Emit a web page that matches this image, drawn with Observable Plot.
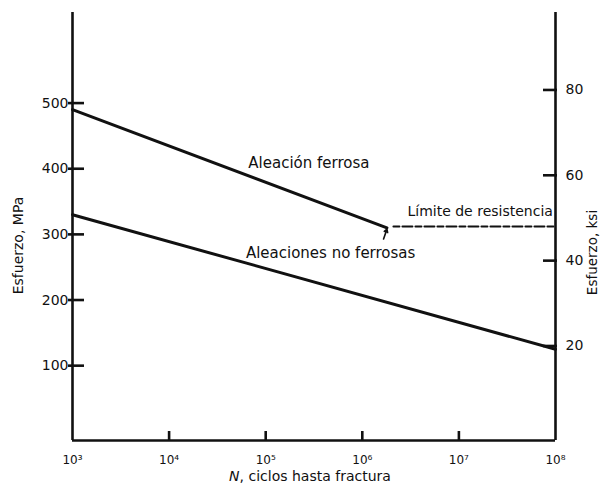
<!DOCTYPE html>
<html><head><meta charset="utf-8">
<script src="https://cdn.jsdelivr.net/npm/d3@7"></script>
<script src="https://cdn.jsdelivr.net/npm/@observablehq/plot@0.6"></script>
<style>body{margin:0;background:#fff} #chart{width:602px;height:486px}</style>
</head><body><div id="chart"></div>
<script>
// ---- data ----
const cycleTicks = [1e3, 1e4, 1e5, 1e6, 1e7, 1e8];   // N, ciclos
const mpaTicks = [100, 200, 300, 400, 500];          // left axis, MPa
const ksiTicks = [20, 40, 60, 80];                   // right axis, ksi
const ferrous = [{N: 1e3, s: 490}, {N: 1.8e6, s: 310}];
const endurance = [{N: 2.1e6, s: 312}, {N: 1e8, s: 312}];
const nonFerrous = [{N: 1e3, s: 330}, {N: 1e8, s: 125}];
const curveLabels = [
  {N: 2.8e5, s: 408, label: "Aleación ferrosa"},
  {N: 4.7e5, s: 272, label: "Aleaciones no ferrosas"},
  {N: 1.66e7, s: 335, label: "Límite de resistencia"}
];
const kneeArrow = [{N1: 1.66e6, s1: 293, N2: 1.8e6, s2: 308}];
const MPA_PER_KSI = 6.5; // as drawn in the figure

// ---- layout ----
const W = 602, H = 486, mL = 72, mR = 47, mT = 12, mB = 46;
const innerW = W - mL - mR, innerH = H - mT - mB;
const sup = {"0":"⁰","1":"¹","2":"²","3":"³","4":"⁴","5":"⁵","6":"⁶","7":"⁷","8":"⁸","9":"⁹"};
const fmtPow = d => "10" + String(Math.round(Math.log10(d))).split("").map(c => sup[c]).join("");
const ink = "#111";

const plot = Plot.plot({
  width: W, height: H,
  marginLeft: mL, marginRight: mR, marginTop: mT, marginBottom: mB,
  style: {fontFamily: "DejaVu Sans", color: ink, background: "white"},
  x: {type: "log", domain: [1e3, 1e8]},
  y: {domain: [-14, 638]},
  marks: [
    Plot.axisX({ticks: cycleTicks, tickSize: 0, tickPadding: 15, tickFormat: fmtPow, fontSize: 12, label: null}),
    Plot.axisY({anchor: "left", ticks: mpaTicks, tickSize: 0, tickPadding: 4, fontSize: 14, label: null}),
    Plot.axisY({anchor: "right", ticks: ksiTicks.map(k => k * MPA_PER_KSI), tickFormat: d => Math.round(d / MPA_PER_KSI),
      tickSize: 0, tickPadding: 10, fontSize: 14, label: null}),
    // frame lines (left, right, bottom)
    Plot.ruleX([1e3, 1e8], {stroke: ink, strokeWidth: 2.6}),
    Plot.ruleY([-14], {stroke: ink, strokeWidth: 2.6}),
    // inward ticks
    Plot.ruleX(cycleTicks.slice(1, -1), {stroke: ink, strokeWidth: 2.6, insetTop: innerH - 9}),
    Plot.ruleY(mpaTicks, {stroke: ink, strokeWidth: 2.6, insetLeft: -4, insetRight: innerW - 12}),
    Plot.ruleY(ksiTicks.map(k => k * MPA_PER_KSI), {stroke: ink, strokeWidth: 2.6, insetLeft: innerW - 12, insetRight: -2}),
    // curves
    Plot.line(ferrous, {x: "N", y: "s", stroke: ink, strokeWidth: 3}),
    Plot.line(nonFerrous, {x: "N", y: "s", stroke: ink, strokeWidth: 3}),
    Plot.line(endurance, {x: "N", y: "s", stroke: ink, strokeWidth: 2, strokeDasharray: "6,3,10,3"}),
    Plot.arrow(kneeArrow, {x1: "N1", y1: "s1", x2: "N2", y2: "s2", stroke: ink, strokeWidth: 1.6, headLength: 5}),
    // labels
    Plot.text(curveLabels.slice(0, 2), {x: "N", y: "s", text: "label", fontSize: 15, fill: ink}),
    Plot.text(curveLabels.slice(2), {x: "N", y: "s", text: "label", fontSize: 14, fill: ink}),
    Plot.text(["Esfuerzo, MPa"], {text: d => d, frameAnchor: "left", textAnchor: "middle", rotate: -90, dx: -54, dy: 19, fontSize: 14, fill: ink}),
    Plot.text(["Esfuerzo, ksi"], {text: d => d, frameAnchor: "right", textAnchor: "middle", rotate: -90, dx: 37, dy: 26, fontSize: 13.5, fill: ink}),
    Plot.text(["N, ciclos hasta fractura"], {text: d => d, frameAnchor: "bottom", textAnchor: "middle", dy: 40, dx: -4, fontSize: 14, fill: ink})
  ]
});
// italic N in the x-axis title
plot.querySelectorAll("text").forEach(t => {
  if (t.textContent === "N, ciclos hasta fractura") {
    t.textContent = "";
    const a = document.createElementNS("http://www.w3.org/2000/svg", "tspan");
    a.setAttribute("font-style", "italic"); a.textContent = "N";
    const b = document.createElementNS("http://www.w3.org/2000/svg", "tspan");
    b.textContent = ", ciclos hasta fractura";
    t.appendChild(a); t.appendChild(b);
  }
});
document.getElementById("chart").appendChild(plot);
</script>
</body></html>
